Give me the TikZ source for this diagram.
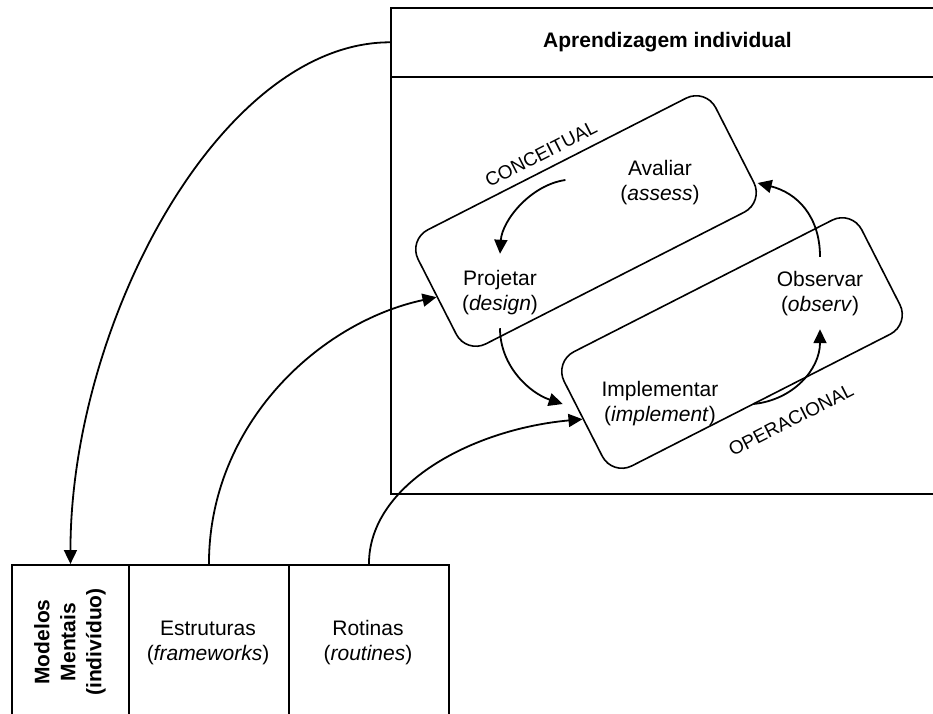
\documentclass[tikz,border=0pt]{standalone}
\usepackage{fontspec}
\setmainfont{Liberation Sans}
\usetikzlibrary{arrows.meta}
\begin{document}
\begin{tikzpicture}[x=1pt,y=-1pt,line width=1.9pt,
  arr/.style={-{Triangle[length=14pt,width=13pt]},line width=1.8pt},
  lbl/.style={align=center,font=\fontsize{21}{25}\selectfont,inner sep=0pt},
  boldlbl/.style={align=center,font=\bfseries\fontsize{21}{26}\selectfont,inner sep=0pt},
  cyc/.style={draw,rounded corners=22pt,minimum width=334pt,minimum height=128pt,rotate=27,line width=1.6pt,inner sep=0pt},
  sidelbl/.style={font=\fontsize{19}{22}\selectfont,rotate=27,inner sep=0pt},
  colbox/.style={draw,line width=1.9pt,minimum height=200pt,anchor=north west,inner sep=0pt}]
\useasboundingbox (0,0) rectangle (933,713);
\clip (0,0) rectangle (933,713);
% main box
\node[draw,boldlbl,minimum width=553pt,minimum height=69.3pt,anchor=north west] (hdr) at (390,6.7) {Aprendizagem individual};
\node[draw,minimum width=553pt,minimum height=417pt,anchor=north west,inner sep=0pt] (body) at (390,76) {};
% cycle boxes
\node[cyc] (conc) at (586,221) {};
\node[cyc] (oper) at (732,343) {};
\node[sidelbl] (lc) at (541,154) {CONCEITUAL};
\node[sidelbl] (lo) at (791,420) {OPERACIONAL};
\node[lbl] (aval) at (660,183) {Avaliar\\(\textit{assess})};
\node[lbl] (proj) at (500,293) {Projetar\\(\textit{design})};
\node[lbl] (obs) at (820,294) {Observar\\(\textit{observ})};
\node[lbl] (impl) at (660,404) {Implementar\\(\textit{implement})};
% bottom columns
\node[colbox,minimum width=117pt] (mm) at (11,564) {};
\node[colbox,minimum width=160pt] (est) at (128,564) {};
\node[colbox,minimum width=160pt] (rot) at (288,564) {};
\node[boldlbl,rotate=90] (mmt) at (70,642) {Modelos\\Mentais\\(indivíduo)};
\node[lbl] (estt) at (208,643) {Estruturas\\(\textit{frameworks})};
\node[lbl] (rott) at (368,643) {Rotinas\\(\textit{routines})};
% cycle arrows
\draw[arr] ([xshift=-54pt,yshift=3pt]aval.west) .. controls +(-35,5) and +(2,-33) .. ([yshift=16pt]proj.north);
\draw[arr] ([yshift=-12pt]proj.south) .. controls +(0,38) and +(-33,-11) .. ([xshift=-38pt]impl.west);
\draw[arr] ([xshift=34pt]impl.east) .. controls +(40,-4) and +(0,40) .. ([yshift=-12pt]obs.south);
\draw[arr] ([yshift=14pt]obs.north) .. controls +(0,-40) and +(40,10) .. ([xshift=57pt]aval.east);
% outer arrows
\draw[arr] (hdr.west) .. controls +(-170,0) and +(0,-240) .. (mm.north);
\draw[arr] (est.north) .. controls +(0,-140) and +(-117,25) .. (conc.west);
\draw[arr] (rot.north) .. controls +(0,-80) and +(-110,10) .. (oper.west);
\end{tikzpicture}
\end{document}
